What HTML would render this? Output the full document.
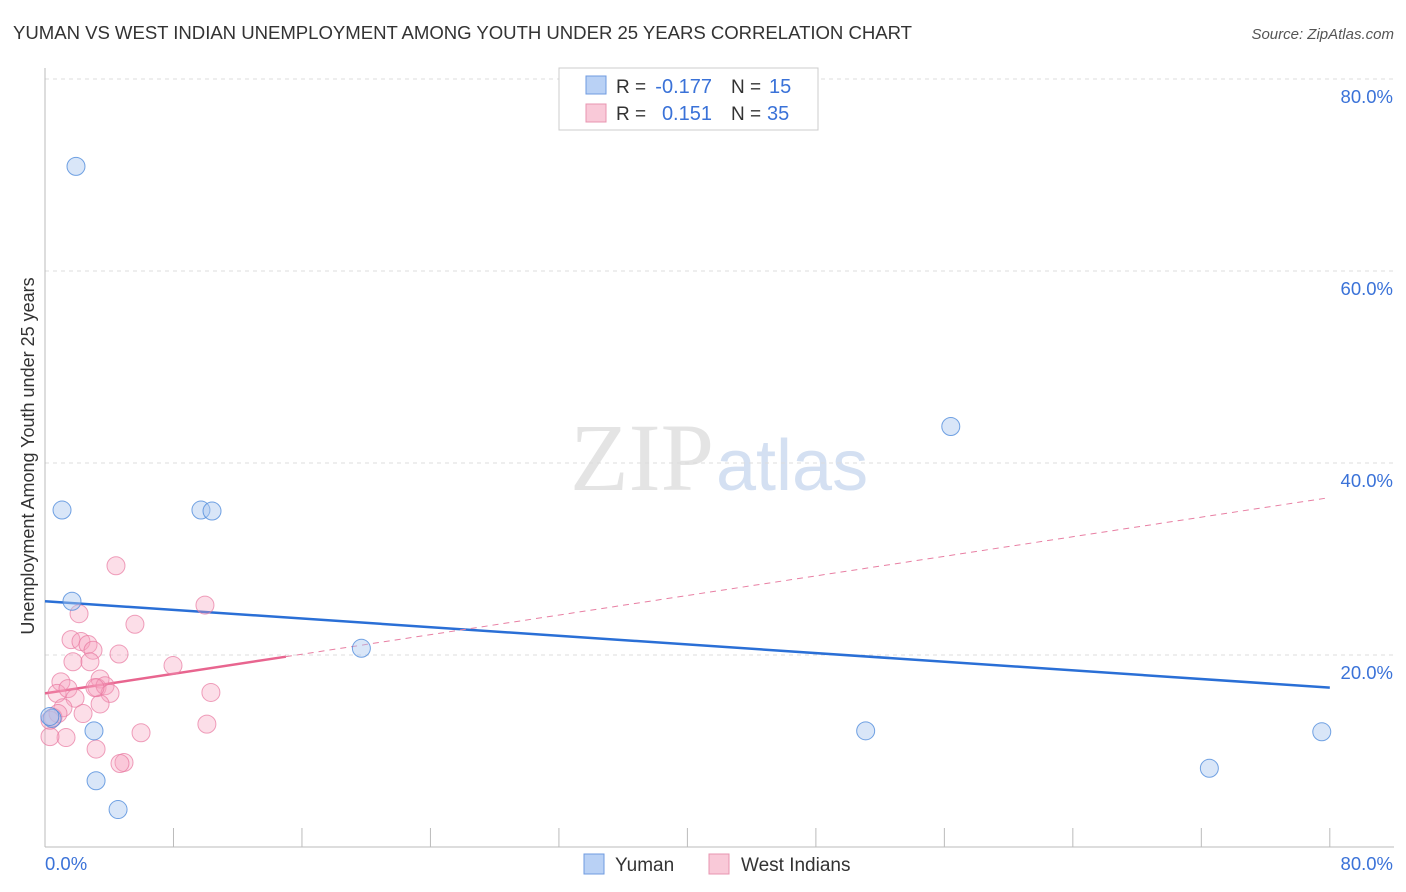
<!DOCTYPE html>
<html><head><meta charset="utf-8"><style>
body{margin:0;background:#fff;font-family:"Liberation Sans",sans-serif}
svg{display:block}
</style></head><body>
<svg width="1406" height="892" id="c">
<text x="13" y="39" font-size="18.6" fill="#333" textLength="899">YUMAN VS WEST INDIAN UNEMPLOYMENT AMONG YOUTH UNDER 25 YEARS CORRELATION CHART</text>
<text x="1394" y="39" font-size="15" fill="#555" text-anchor="end" font-style="italic">Source: ZipAtlas.com</text>
<text x="714" y="490" font-size="96" fill="#e4e4e4" text-anchor="end" font-family="Liberation Serif,serif">ZIP</text>
<text x="716" y="490" font-size="72" fill="#d4e0f2">atlas</text>
<g id="grid"></g>
<line x1="45" y1="68" x2="45" y2="847" stroke="#bbb"/>
<line x1="45" y1="847" x2="1394" y2="847" stroke="#bbb"/>
<text x="34" y="456" font-size="18" fill="#333" text-anchor="middle" transform="rotate(-90 34 456)">Unemployment Among Youth under 25 years</text>
<g id="ticks"></g>
<g id="lines"></g>
<g id="pts"></g>
<g>
<rect x="559" y="68" width="259" height="62" fill="#fff" stroke="#ccc"/>
<rect x="586" y="76" width="20" height="18" fill="#b9d1f5" stroke="#6f9be0"/>
<rect x="586" y="104" width="20" height="18" fill="#f9c9d8" stroke="#e895b0"/>
<text x="616" y="93" font-size="19" fill="#333">R =</text>
<text x="712" y="93" font-size="20" fill="#3a72d8" text-anchor="end">-0.177</text>
<text x="731" y="93" font-size="19" fill="#333">N =</text>
<text x="769" y="93" font-size="20" fill="#3a72d8">15</text>
<text x="616" y="120" font-size="19" fill="#333">R =</text>
<text x="712" y="120" font-size="20" fill="#3a72d8" text-anchor="end">0.151</text>
<text x="731" y="120" font-size="19" fill="#333">N =</text>
<text x="767" y="120" font-size="20" fill="#3a72d8">35</text>
</g>
<g>
<rect x="584" y="854" width="20" height="20" fill="#b9d1f5" stroke="#6f9be0"/>
<text x="615" y="871" font-size="19" fill="#333">Yuman</text>
<rect x="709" y="854" width="20" height="20" fill="#f9c9d8" stroke="#e895b0"/>
<text x="741" y="871" font-size="19" fill="#333">West Indians</text>
</g>
</svg>
<script>
const yumanX=[1.93,1.06,9.71,10.4,1.68,19.7,56.4,3.05,3.18,4.55,51.1,72.5,79.5,0.44,0.3];
const yumanY=[70.9,35.1,35.1,35.0,25.6,20.7,43.8,12.1,6.9,3.9,12.1,8.2,12.0,13.4,13.6];
const wiX=[4.42,2.12,5.60,9.96,1.62,2.24,2.68,2.99,1.74,2.80,4.61,7.97,0.99,3.43,3.24,3.74,4.05,10.33,0.75,1.43,1.87,1.12,3.43,2.37,10.08,5.98,1.31,3.18,4.92,4.67,0.31,0.50,0.31,0.81,3.11];
const wiY=[29.3,24.3,23.2,25.2,21.6,21.4,21.1,20.5,19.3,19.3,20.1,18.9,17.2,17.5,16.6,16.8,16.0,16.1,16.0,16.5,15.5,14.5,14.9,13.9,12.8,11.9,11.4,10.2,8.8,8.7,11.5,13.5,13.2,13.9,16.6];
const yTicks=[20,40,60,80];
const xTickLabels=["0.0%","80.0%"];
const yumanTrend=[25.6,16.6];
const wiTrend=[16.0,36.4];
const NS="http://www.w3.org/2000/svg";
const sx=v=>45+v*16.06, sy=v=>847-v*9.6;
function mk(tag,attrs,parent){const e=document.createElementNS(NS,tag);for(const k in attrs)e.setAttribute(k,attrs[k]);document.getElementById(parent).appendChild(e);return e;}
yTicks.forEach(t=>{
 const g=mk('line',{x1:45,x2:1394,y1:sy(t),y2:sy(t),stroke:'#ddd','stroke-dasharray':'4,4'},'grid');
 
 
 const l=mk('text',{x:1393,y:sy(t)+24,'font-size':18.5,fill:'#3a72d8','text-anchor':'end'},'ticks');l.textContent=t.toFixed(1)+'%';
 
 
});
for(let i=0;i<=10;i++){const x=sx(i*8);const t=mk('line',{x1:x,x2:x,y1:828,y2:847,stroke:'#bbb'},'ticks');
 
 }
const xl0=mk('text',{x:45,y:870,'font-size':18.5,fill:'#3a72d8'},'ticks');xl0.textContent=xTickLabels[0];


const xl1=mk('text',{x:1393,y:870,'font-size':18.5,fill:'#3a72d8','text-anchor':'end'},'ticks');xl1.textContent=xTickLabels[1];


const ybl=mk('line',{x1:sx(0),y1:sy(yumanTrend[0]),x2:sx(80),y2:sy(yumanTrend[1]),stroke:'#2a6fd6','stroke-width':2.5},'lines');


const wd=mk('line',{x1:sx(15),y1:sy(wiTrend[0]+(wiTrend[1]-wiTrend[0])*15/80),x2:sx(80),y2:sy(wiTrend[1]),stroke:'#e87fa3','stroke-width':1,'stroke-dasharray':'6,5'},'lines');


const ws=mk('line',{x1:sx(0),y1:sy(wiTrend[0]),x2:sx(15),y2:sy(wiTrend[0]+(wiTrend[1]-wiTrend[0])*15/80),stroke:'#e8658f','stroke-width':2.5},'lines');


wiX.forEach((x,i)=>{const c=mk('circle',{cx:sx(x),cy:sy(wiY[i]),r:9,fill:'rgba(245,160,190,0.35)',stroke:'rgba(232,120,160,0.7)','stroke-width':1},'pts');
 
 });
yumanX.forEach((x,i)=>{const c=mk('circle',{cx:sx(x),cy:sy(yumanY[i]),r:9,fill:'rgba(170,200,240,0.45)',stroke:'rgba(80,140,220,0.8)','stroke-width':1},'pts');
 
 });
</script>
</body></html>
